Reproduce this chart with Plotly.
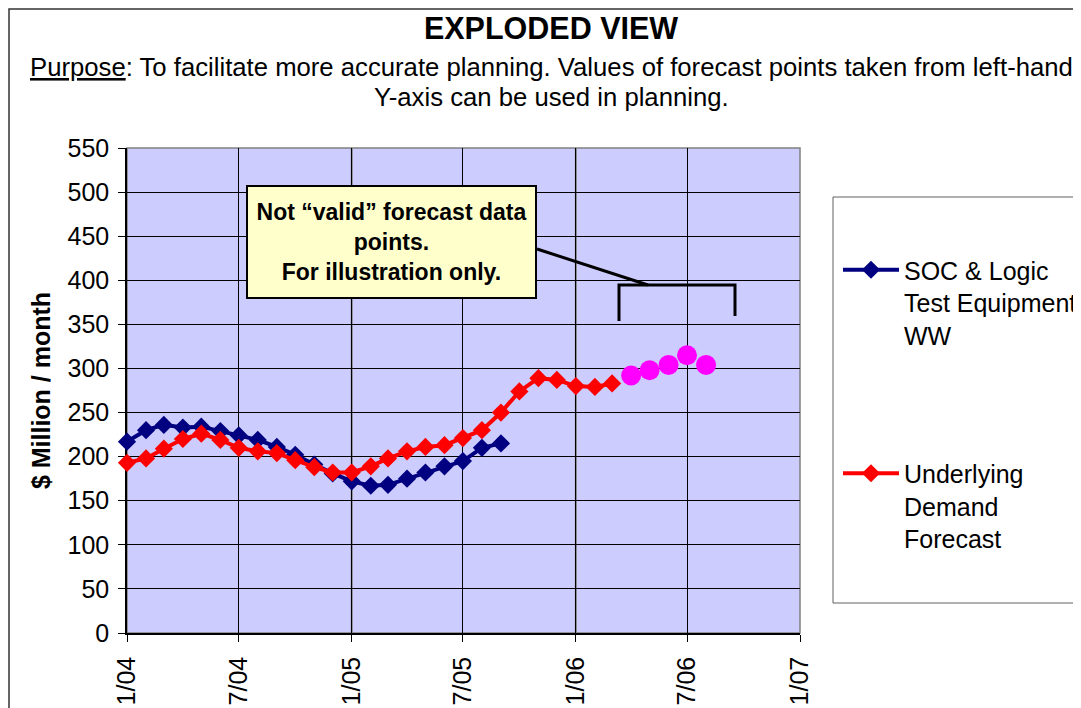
import pandas as pd
import plotly.graph_objects as go

# ---------------- data ----------------
soc_months = pd.date_range("2004-01-01", periods=21, freq="MS")
soc_values = [217, 230, 236, 233, 234, 229, 224, 219, 211, 202, 191, 181,
              172, 167, 168, 175, 182, 189, 195, 210, 215]

demand_months = pd.date_range("2004-01-01", periods=27, freq="MS")
demand_values = [193, 198, 209, 220, 226, 219, 210, 206, 204, 196, 188, 182,
                 182, 189, 198, 206, 211, 213, 221, 230, 250, 274, 289, 287,
                 280, 279, 283]

illus_months = pd.date_range("2006-04-01", periods=5, freq="MS")
illus_values = [292, 298, 304, 315, 304]

series_names = ["SOC & Logic<br>Test Equipment<br>WW",
                "Underlying<br>Demand<br>Forecast"]
y_ticks = [0, 50, 100, 150, 200, 250, 300, 350, 400, 450, 500, 550]
january_lines = ["2005-01-01", "2006-01-01"]

# ---------------- layout helpers ----------------
# page has an 8px body margin: figure occupies page pixels 8..1081 / 8..708
OFF = 8
W, H = 1073, 700
L, T = 127 - OFF, 148 - OFF
R = W - (800 - OFF)
B = H - (633 - OFF)
PW, PH = W - L - R, H - T - B


def px(x):  # page pixel -> paper x
    return (x - OFF - L) / PW


def py(y):  # page pixel -> paper y
    return (H - B - (y - OFF)) / PH


FONT = "Liberation Sans, Arial, sans-serif"

fig = go.Figure()
fig.add_trace(go.Scatter(
    x=soc_months, y=soc_values, name=series_names[0], legendgroup="a",
    mode="lines+markers", line=dict(color="#000080", width=4),
    marker=dict(symbol="diamond", size=14, color="#000080"), cliponaxis=False))
fig.add_trace(go.Scatter(
    x=demand_months, y=demand_values, name=series_names[1], legendgroup="b",
    mode="lines+markers", line=dict(color="#FF0000", width=4),
    marker=dict(symbol="diamond", size=14, color="#FF0000"), cliponaxis=False))
fig.add_trace(go.Scatter(
    x=illus_months, y=illus_values, showlegend=False,
    mode="markers", marker=dict(symbol="circle", size=20, color="#FF00FF"),
    cliponaxis=False))

shapes = [
    # outer chart border
    dict(type="rect", xref="paper", yref="paper", x0=px(9), x1=px(1100),
         y0=py(730), y1=py(9), line=dict(color="#333333", width=1.5), layer="below"),
    # plot area border
    dict(type="rect", xref="paper", yref="paper", x0=0, x1=1, y0=0, y1=1,
         line=dict(color="#808080", width=1.5), layer="below"),
    # legend border
    dict(type="rect", xref="paper", yref="paper", x0=px(833), x1=px(1100),
         y0=py(603), y1=py(197), line=dict(color="#606060", width=1), layer="below"),
    # connector line from callout
    dict(type="line", xref="paper", yref="paper", x0=px(537), y0=py(249),
         x1=px(648), y1=py(285), line=dict(color="black", width=3)),
    # bracket
    dict(type="path", xref="paper", yref="paper",
         path=f"M {px(619)},{py(321)} L {px(619)},{py(285)} L {px(735)},{py(285)} L {px(735)},{py(316)}",
         line=dict(color="black", width=3)),
]
# January gridlines are drawn grey in the reference
for d in january_lines:
    shapes.append(dict(type="line", xref="x", yref="paper", x0=d, x1=d, y0=0, y1=1,
                       line=dict(color="#808080", width=2), layer="between"))

annotations = [
    dict(text="<u>Purpose</u>: To facilitate more accurate planning. Values of forecast points taken from left-hand",
         xref="paper", yref="paper", x=px(551.5), y=py(67), showarrow=False,
         xanchor="center", yanchor="middle", font=dict(family=FONT, size=25.7, color="black")),
    dict(text="Y-axis can be used in planning.",
         xref="paper", yref="paper", x=px(551.5), y=py(97), showarrow=False,
         xanchor="center", yanchor="middle", font=dict(family=FONT, size=25.7, color="black")),
    dict(text="<b>Not \u201cvalid\u201d forecast data<br>points.<br>For illustration only.</b>",
         xref="paper", yref="paper", x=px(391.5), y=py(242), showarrow=False,
         xanchor="center", yanchor="middle", align="center",
         width=275, height=98, borderpad=6, borderwidth=2,
         bordercolor="black", bgcolor="#FFFFCC",
         font=dict(family=FONT, size=23, color="black")),
]

fig.update_layout(
    template="none",
    width=W, height=H,
    margin=dict(l=L, r=R, t=T, b=B, autoexpand=False),
    paper_bgcolor="white", plot_bgcolor="#CCCCFF",
    font=dict(family=FONT, size=25, color="black"),
    title=dict(text="<b>EXPLODED VIEW</b>", x=(551 - OFF) / W, y=1 - (28 - OFF) / H,
               xref="container", yref="container", xanchor="center", yanchor="middle",
               font=dict(family=FONT, size=30.5, color="black")),
    xaxis=dict(range=["2004-01-01", "2007-01-01"], tick0="2004-01-01", dtick="M6",
               tickformat="%-m/%y", tickangle=-90,
               showgrid=True, gridcolor="black", gridwidth=1,
               showline=True, linecolor="black", linewidth=1.5,
               ticks="outside", ticklen=7, tickcolor="black", ticklabelstandoff=5,
               tickfont=dict(family=FONT, size=25, color="black"),
               zeroline=False, automargin=False, layer="below traces"),
    yaxis=dict(range=[0, 550], tickvals=y_ticks,
               showgrid=True, gridcolor="black", gridwidth=1,
               showline=True, linecolor="black", linewidth=1.5,
               ticks="outside", ticklen=7, tickcolor="black", ticklabelstandoff=4,
               tickfont=dict(family=FONT, size=25, color="black"),
               title=dict(text="<b>$ Million / month</b>", standoff=10,
                          font=dict(family=FONT, size=25, color="black")),
               zeroline=False, automargin=False, layer="below traces"),
    showlegend=True,
    legend=dict(x=px(838), y=py(247), xanchor="left", yanchor="top",
                valign="top", traceorder="grouped", tracegroupgap=103,
                bgcolor="rgba(0,0,0,0)", borderwidth=0, itemwidth=56,
                font=dict(family=FONT, size=25, color="black")),
    shapes=shapes,
    annotations=annotations,
)

fig.write_html("out.html")
